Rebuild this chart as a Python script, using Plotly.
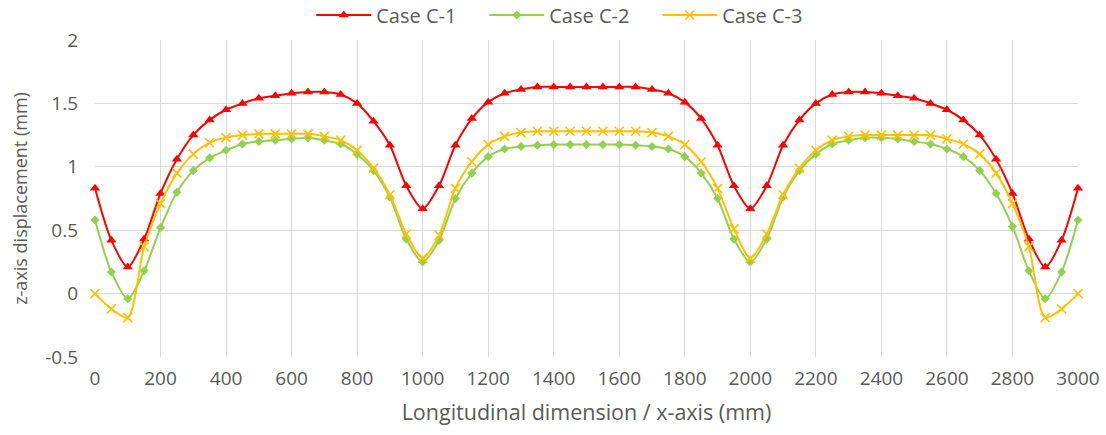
import plotly.graph_objects as go

# Longitudinal positions (mm), one reading every 50 mm
x_mm = list(range(0, 3001, 50))

# z-axis displacement (mm) for each load case
case_c1 = [0.83, 0.42, 0.21, 0.43, 0.79, 1.06, 1.25, 1.37, 1.45, 1.50,
           1.54, 1.56, 1.58, 1.59, 1.59, 1.57, 1.50, 1.36, 1.17, 0.85,
           0.67, 0.85, 1.17, 1.38, 1.51, 1.58, 1.61, 1.63, 1.63, 1.63,
           1.63, 1.63, 1.63, 1.63, 1.61, 1.58, 1.51, 1.38, 1.17, 0.85,
           0.67, 0.85, 1.17, 1.37, 1.50, 1.57, 1.59, 1.59, 1.58, 1.56,
           1.54, 1.50, 1.45, 1.37, 1.25, 1.06, 0.79, 0.43, 0.21, 0.42,
           0.83]

case_c2 = [0.58, 0.17, -0.04, 0.18, 0.52, 0.80, 0.97, 1.07, 1.13, 1.18,
           1.20, 1.21, 1.22, 1.23, 1.21, 1.18, 1.10, 0.97, 0.76, 0.43,
           0.25, 0.42, 0.75, 0.95, 1.08, 1.14, 1.16, 1.17, 1.175, 1.175,
           1.175, 1.175, 1.175, 1.17, 1.16, 1.14, 1.08, 0.95, 0.75, 0.43,
           0.25, 0.43, 0.76, 0.97, 1.10, 1.18, 1.21, 1.23, 1.23, 1.22,
           1.20, 1.18, 1.14, 1.08, 0.97, 0.79, 0.53, 0.18, -0.04, 0.17,
           0.58]

case_c3 = [0.0, -0.12, -0.19, 0.37, 0.71, 0.95, 1.10, 1.19, 1.23, 1.25,
           1.26, 1.26, 1.26, 1.26, 1.24, 1.21, 1.13, 0.99, 0.78, 0.47,
           0.28, 0.46, 0.83, 1.04, 1.175, 1.24, 1.27, 1.28, 1.28, 1.28,
           1.28, 1.28, 1.28, 1.28, 1.27, 1.24, 1.175, 1.04, 0.83, 0.51,
           0.28, 0.47, 0.78, 0.99, 1.13, 1.21, 1.24, 1.25, 1.25, 1.25,
           1.25, 1.25, 1.22, 1.18, 1.10, 0.95, 0.71, 0.37, -0.19, -0.12,
           0.0]

x_ticks = list(range(0, 3001, 200))
y_ticks = [-0.5, 0, 0.5, 1, 1.5, 2]
y_tick_text = ["-0.5", "0", "0.5", "1", "1.5", "2"]

FONT = "'Open Sans', Lato, sans-serif"
TEXT_COLOR = "#595959"
GRID = "#D9D9D9"

fig = go.Figure()

fig.add_trace(go.Scatter(
    x=x_mm, y=case_c1, name="Case C-1", mode="lines+markers",
    line=dict(color="#FF0000", width=2, shape="spline", smoothing=0.8),
    marker=dict(symbol="triangle-up", size=9, color="#FF0000"),
    cliponaxis=False,
))
fig.add_trace(go.Scatter(
    x=x_mm, y=case_c2, name="Case C-2", mode="lines+markers",
    line=dict(color="#92D050", width=2, shape="spline", smoothing=0.8),
    marker=dict(symbol="diamond", size=7, color="#92D050"),
    cliponaxis=False,
))
fig.add_trace(go.Scatter(
    x=x_mm, y=case_c3, name="Case C-3", mode="lines+markers",
    line=dict(color="#FFC000", width=2, shape="spline", smoothing=0.8),
    marker=dict(symbol="x-thin", size=9, color="#FFC000",
                line=dict(color="#FFC000", width=1.6)),
    cliponaxis=False,
))

fig.update_layout(
    width=1106, height=435,
    margin=dict(l=95, r=28, t=40, b=78, autoexpand=False),
    paper_bgcolor="white", plot_bgcolor="white",
    font=dict(family=FONT, size=19, color=TEXT_COLOR),
    legend=dict(
        orientation="h", xref="paper", yref="paper",
        x=0.484, xanchor="center", y=1.079, yanchor="middle",
        font=dict(size=20, color=TEXT_COLOR), itemwidth=55,
        entrywidth=103, entrywidthmode="pixels",
        bgcolor="rgba(0,0,0,0)",
    ),
    xaxis=dict(
        range=[0, 3000], tickvals=x_ticks, tickangle=0, automargin=False,
        showgrid=True, gridcolor=GRID, gridwidth=1,
        zeroline=False, showline=False, ticks="",
        ticklabelstandoff=8,
        tickfont=dict(size=19, color=TEXT_COLOR),
        title=dict(text="Longitudinal dimension / x-axis (mm)",
                   font=dict(size=21.5, color=TEXT_COLOR), standoff=14),
    ),
    yaxis=dict(
        range=[-0.5, 2], tickvals=y_ticks, ticktext=y_tick_text,
        automargin=False,
        showgrid=True, gridcolor=GRID, gridwidth=1,
        zeroline=False, showline=False, ticks="",
        ticklabelstandoff=16,
        tickfont=dict(size=19, color=TEXT_COLOR),
        title=dict(text="z-axis displacement (mm)",
                   font=dict(size=18, color=TEXT_COLOR), standoff=12),
    ),
)

fig.write_html("out.html")
